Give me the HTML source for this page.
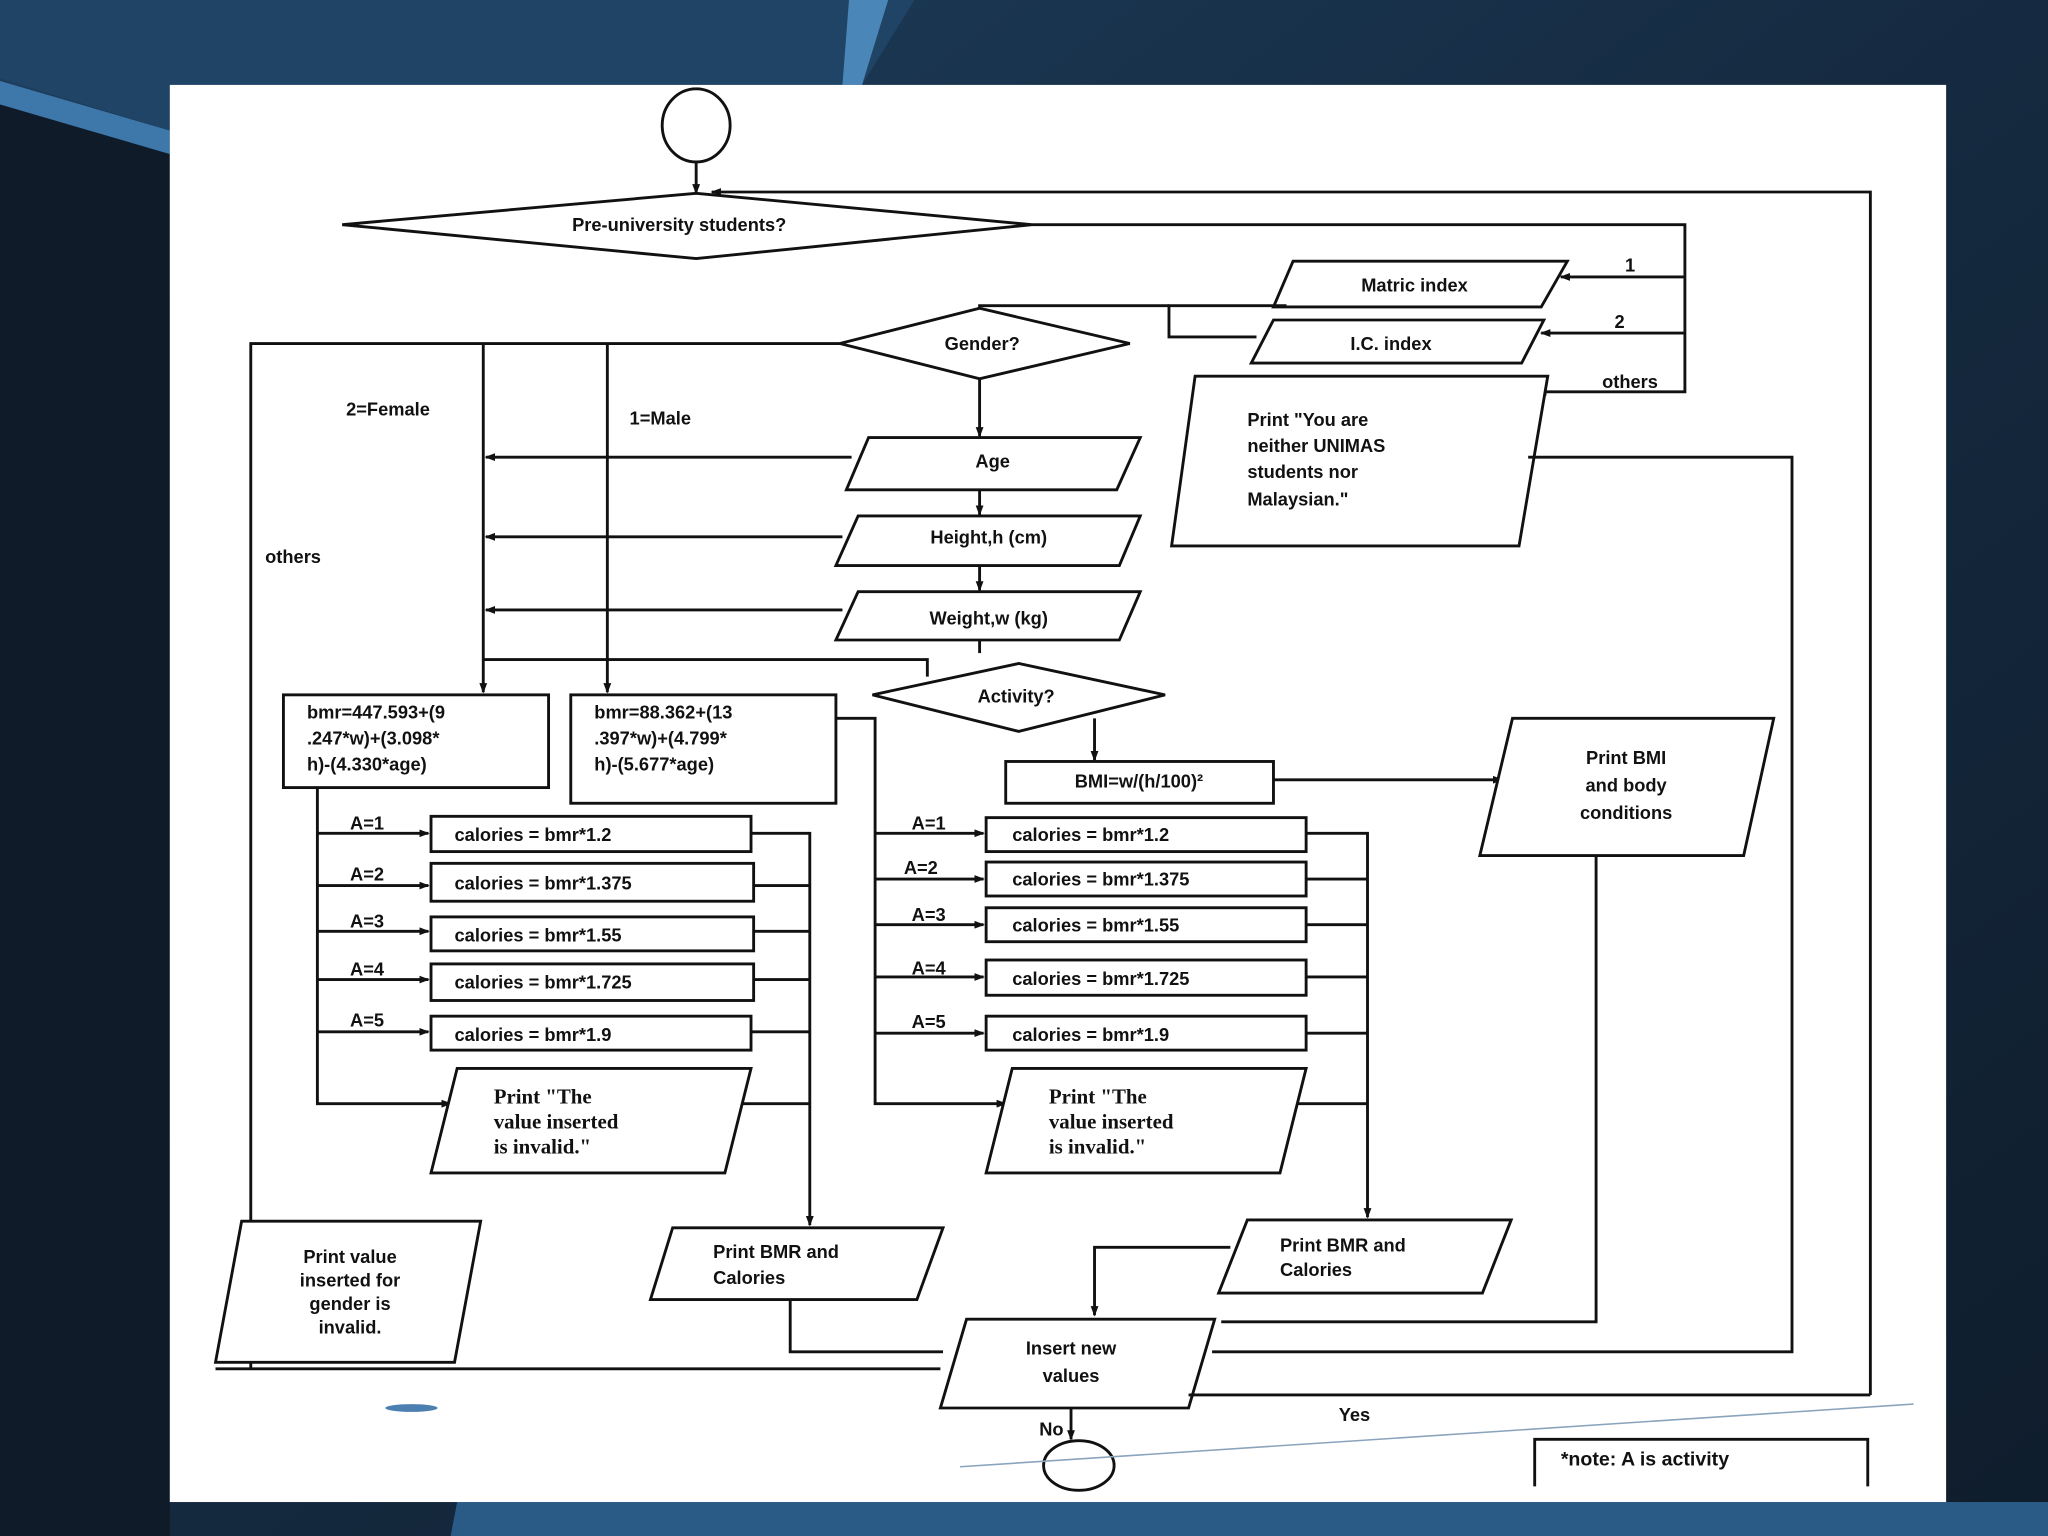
<!DOCTYPE html>
<html><head><meta charset="utf-8"><style>
html,body{margin:0;padding:0;width:2048px;height:1536px;overflow:hidden;background:#0f1c2b;}
svg{display:block}
text{font-family:"Liberation Sans",sans-serif;font-size:14px;fill:#111;font-weight:bold}
.s{font-family:"Liberation Serif",serif;font-size:16px}
</style></head><body>
<svg width="2048" height="1536" viewBox="0 0 1568 1176" xmlns="http://www.w3.org/2000/svg">
<defs>
<linearGradient id="bg" x1="0" y1="0" x2="1" y2="1">
<stop offset="0" stop-color="#1e3f5e"/><stop offset="0.5" stop-color="#152a40"/><stop offset="1" stop-color="#0f1d2c"/>
</linearGradient>
<marker id="a" markerWidth="8" markerHeight="8" refX="7" refY="4" orient="auto" markerUnits="userSpaceOnUse"><path d="M0,1 L8,4 L0,7z" fill="#111"/></marker>
</defs>
<rect width="1568" height="1176" fill="url(#bg)"/>
<polygon points="0,0 700,0 660,65 130,65 130,100 0,60" fill="#1f4466"/>
<polygon points="0,62 130,100 130,118 0,80" fill="#3e78aa"/>
<polygon points="650,0 680,0 660,65 645,65" fill="#4a86b8"/>
<polygon points="0,80 130,118 130,1176 0,1176" fill="#0f1b28"/>
<polygon points="350,1150 1568,1150 1568,1176 345,1176" fill="#2a5a86"/>
<rect x="130" y="65" width="1360" height="1085" fill="#fff"/>
<g stroke="#111" stroke-width="2.2" fill="none">
<ellipse cx="533" cy="96" rx="26" ry="28" fill="#fff"/>
<line x1="533" y1="124" x2="533" y2="148" marker-end="url(#a)"/>
<polygon points="262,172 533,148 790,172 533,198" fill="#fff"/>
<polyline points="1432,1068 1432,147 545,147" marker-end="url(#a)"/>
<polyline points="790,172 1290,172 1290,300 1177,300" marker-end="url(#a)"/>
<line x1="1290" y1="212" x2="1195" y2="212" marker-end="url(#a)"/>
<line x1="1290" y1="255" x2="1180" y2="255" marker-end="url(#a)"/>
<polygon points="990,200 1200,200 1180,235 975,235" fill="#fff"/>
<polygon points="975,245 1182,245 1165,278 958,278" fill="#fff"/>
<polyline points="985,234 895,234 895,258 962,258"/>
<polyline points="895,234 750,234 750,236"/>
<polygon points="643,263 750,236 865,263 750,290" fill="#fff"/>
<polyline points="643,263 192,263 192,1048"/>
<line x1="370" y1="263" x2="370" y2="530" marker-end="url(#a)"/>
<line x1="465" y1="263" x2="465" y2="530" marker-end="url(#a)"/>
<line x1="750" y1="290" x2="750" y2="334" marker-end="url(#a)"/>
<polygon points="665,335 873,335 855,375 648,375" fill="#fff"/>
<line x1="750" y1="375" x2="750" y2="394" marker-end="url(#a)"/>
<polygon points="657,395 873,395 857,433 640,433" fill="#fff"/>
<line x1="750" y1="433" x2="750" y2="452" marker-end="url(#a)"/>
<polygon points="657,453 873,453 857,490 640,490" fill="#fff"/>
<line x1="652" y1="350" x2="372" y2="350" marker-end="url(#a)"/>
<line x1="645" y1="411" x2="372" y2="411" marker-end="url(#a)"/>
<line x1="645" y1="467" x2="372" y2="467" marker-end="url(#a)"/>
<polyline points="750,490 750,500"/>
<polyline points="370,505 710,505 710,518"/>
<polygon points="668,532 780,508 892,532 780,560" fill="#fff"/>
<line x1="838" y1="550" x2="838" y2="582" marker-end="url(#a)"/>
<rect x="770" y="583" width="205" height="32" fill="#fff"/>
<line x1="975" y1="597" x2="1150" y2="597" marker-end="url(#a)"/>
<polygon points="1158,550 1358,550 1335,655 1133,655" fill="#fff"/>
<polyline points="1222,655 1222,1012 935,1012"/>
<polygon points="915,288 1185,288 1163,418 897,418" fill="#fff"/>
<polyline points="1170,350 1372,350 1372,1035 928,1035"/>
<rect x="217" y="532" width="203" height="71" fill="#fff"/>
<rect x="437" y="532" width="203" height="83" fill="#fff"/>
<polyline points="640,550 670,550 670,845 770,845" marker-end="url(#a)"/>
<polyline points="243,603 243,845 345,845" marker-end="url(#a)"/>
<line x1="243" y1="638" x2="328" y2="638" marker-end="url(#a)"/>
<line x1="243" y1="678" x2="328" y2="678" marker-end="url(#a)"/>
<line x1="243" y1="713" x2="328" y2="713" marker-end="url(#a)"/>
<line x1="243" y1="750" x2="328" y2="750" marker-end="url(#a)"/>
<line x1="243" y1="790" x2="328" y2="790" marker-end="url(#a)"/>
<rect x="330" y="625" width="245" height="27" fill="#fff"/>
<rect x="330" y="661" width="247" height="29" fill="#fff"/>
<rect x="330" y="702" width="247" height="26" fill="#fff"/>
<rect x="330" y="738" width="247" height="28" fill="#fff"/>
<rect x="330" y="778" width="245" height="26" fill="#fff"/>
<polyline points="575,638 620,638 620,938" marker-end="url(#a)"/>
<line x1="577" y1="678" x2="620" y2="678"/><line x1="577" y1="713" x2="620" y2="713"/><line x1="577" y1="750" x2="620" y2="750"/><line x1="575" y1="790" x2="620" y2="790"/><line x1="565" y1="845" x2="620" y2="845"/>
<polygon points="350,818 575,818 555,898 330,898" fill="#fff"/>
<polygon points="515,940 722,940 702,995 498,995" fill="#fff"/>
<polyline points="605,995 605,1035 722,1035"/>
<line x1="670" y1="638" x2="753" y2="638" marker-end="url(#a)"/>
<line x1="670" y1="673" x2="753" y2="673" marker-end="url(#a)"/>
<line x1="670" y1="708" x2="753" y2="708" marker-end="url(#a)"/>
<line x1="670" y1="748" x2="753" y2="748" marker-end="url(#a)"/>
<line x1="670" y1="791" x2="753" y2="791" marker-end="url(#a)"/>
<rect x="755" y="626" width="245" height="26" fill="#fff"/>
<rect x="755" y="660" width="245" height="26" fill="#fff"/>
<rect x="755" y="695" width="245" height="26" fill="#fff"/>
<rect x="755" y="735" width="245" height="27" fill="#fff"/>
<rect x="755" y="778" width="245" height="26" fill="#fff"/>
<polyline points="1000,638 1047,638 1047,932" marker-end="url(#a)"/>
<line x1="1000" y1="673" x2="1047" y2="673"/><line x1="1000" y1="708" x2="1047" y2="708"/><line x1="1000" y1="748" x2="1047" y2="748"/><line x1="1000" y1="791" x2="1047" y2="791"/><line x1="990" y1="845" x2="1047" y2="845"/>
<polygon points="775,818 1000,818 980,898 755,898" fill="#fff"/>
<polygon points="955,934 1157,934 1135,990 933,990" fill="#fff"/>
<polyline points="942,955 838,955 838,1007" marker-end="url(#a)"/>
<polyline points="165,1048 720,1048"/>
<polygon points="740,1010 930,1010 910,1078 720,1078" fill="#fff"/>
<line x1="910" y1="1068" x2="1432" y2="1068"/>
<line x1="820" y1="1078" x2="820" y2="1102" marker-end="url(#a)"/>
<ellipse cx="826" cy="1122" rx="27" ry="19" fill="#fff"/>
<polygon points="185,935 368,935 348,1043 165,1043" fill="#fff"/>
<polyline points="1175,1138 1175,1102 1430,1102 1430,1138"/>
</g>
<line x1="735" y1="1123" x2="1465" y2="1075" stroke="#8aa4bc" stroke-width="1.2"/>
<ellipse cx="315" cy="1078" rx="20" ry="3" fill="#4b7fb0"/>
<text x="520" y="177" text-anchor="middle">Pre-university students?</text>
<text x="1083" y="223" text-anchor="middle">Matric index</text>
<text x="1065" y="268" text-anchor="middle">I.C. index</text>
<text x="1248" y="208" text-anchor="middle">1</text>
<text x="1240" y="251" text-anchor="middle">2</text>
<text x="1248" y="297" text-anchor="middle">others</text>
<text x="752" y="268" text-anchor="middle">Gender?</text>
<text x="265" y="318">2=Female</text>
<text x="482" y="325">1=Male</text>
<text x="203" y="431">others</text>
<text x="760" y="358" text-anchor="middle">Age</text>
<text x="757" y="416" text-anchor="middle">Height,h (cm)</text>
<text x="757" y="478" text-anchor="middle">Weight,w (kg)</text>
<text x="778" y="538" text-anchor="middle">Activity?</text>
<text x="872" y="603" text-anchor="middle">BMI=w/(h/100)²</text>
<text x="1245" y="585" text-anchor="middle">Print BMI</text>
<text x="1245" y="606" text-anchor="middle">and body</text>
<text x="1245" y="627" text-anchor="middle">conditions</text>
<text x="955" y="326">Print "You are</text>
<text x="955" y="346">neither UNIMAS</text>
<text x="955" y="366">students nor</text>
<text x="955" y="387">Malaysian."</text>
<text x="235" y="550">bmr=447.593+(9</text>
<text x="235" y="570">.247*w)+(3.098*</text>
<text x="235" y="590">h)-(4.330*age)</text>
<text x="455" y="550">bmr=88.362+(13</text>
<text x="455" y="570">.397*w)+(4.799*</text>
<text x="455" y="590">h)-(5.677*age)</text>
<text x="268" y="635">A=1</text><text x="268" y="674">A=2</text><text x="268" y="710">A=3</text><text x="268" y="747">A=4</text><text x="268" y="786">A=5</text>
<text x="348" y="644">calories = bmr*1.2</text>
<text x="348" y="681">calories = bmr*1.375</text>
<text x="348" y="721">calories = bmr*1.55</text>
<text x="348" y="757">calories = bmr*1.725</text>
<text x="348" y="797">calories = bmr*1.9</text>
<text x="698" y="635">A=1</text><text x="692" y="669">A=2</text><text x="698" y="705">A=3</text><text x="698" y="746">A=4</text><text x="698" y="787">A=5</text>
<text x="775" y="644">calories = bmr*1.2</text>
<text x="775" y="678">calories = bmr*1.375</text>
<text x="775" y="713">calories = bmr*1.55</text>
<text x="775" y="754">calories = bmr*1.725</text>
<text x="775" y="797">calories = bmr*1.9</text>
<text class="s" x="378" y="845">Print "The</text>
<text class="s" x="378" y="864">value inserted</text>
<text class="s" x="378" y="883">is invalid."</text>
<text class="s" x="803" y="845">Print "The</text>
<text class="s" x="803" y="864">value inserted</text>
<text class="s" x="803" y="883">is invalid."</text>
<text x="546" y="963">Print BMR and</text>
<text x="546" y="983">Calories</text>
<text x="980" y="958">Print BMR and</text>
<text x="980" y="977">Calories</text>
<text x="820" y="1037" text-anchor="middle">Insert new</text>
<text x="820" y="1058" text-anchor="middle">values</text>
<text x="805" y="1099" text-anchor="middle">No</text>
<text x="1037" y="1088" text-anchor="middle">Yes</text>
<text x="268" y="967" text-anchor="middle">Print value</text>
<text x="268" y="985" text-anchor="middle">inserted for</text>
<text x="268" y="1003" text-anchor="middle">gender is</text>
<text x="268" y="1021" text-anchor="middle">invalid.</text>
<text x="1195" y="1122" style="font-size:15px">*note: A is activity</text>
</svg>
</body></html>
